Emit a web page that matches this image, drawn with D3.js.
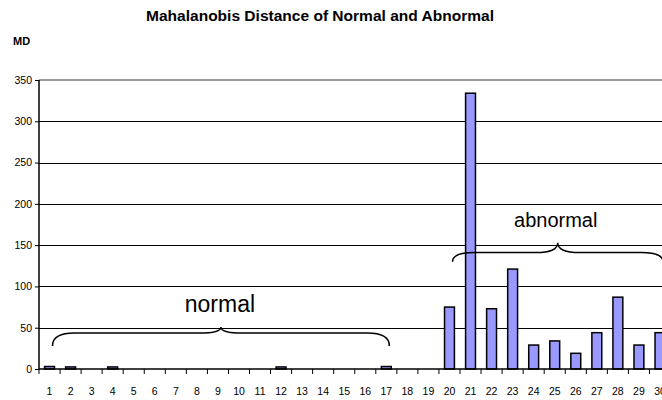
<!DOCTYPE html>
<html>
<head>
<meta charset="utf-8">
<script src="https://cdn.jsdelivr.net/npm/d3@7"></script>
<style>
  body { margin:0; background:#fff; }
  svg { font-family:"Liberation Sans", Arial, sans-serif; display:block; }
</style>
</head>
<body>
<div id="chart"></div>
<script>
/*  Chart data  */
var categories = d3.range(1, 31).map(String);
var mdValues = [3, 2.5, 0, 2.5, 0, 0, 0, 0, 0, 0, 0, 2.5, 0, 0, 0, 0, 3, 0, 0,
                75, 334, 73, 121, 29, 34, 19, 44, 87, 29, 44];
var yTicks = [0, 50, 100, 150, 200, 250, 300, 350];
var groups = [
  {label:"normal",   from:"1",  to:"17", tipAt:"9",  endVal:28,  barVal:43.5, tipVal:51},
  {label:"abnormal", from:"20", to:"30", tipAt:"25", endVal:130, barVal:141,  tipVal:153}
];

var W = 662, H = 400;
var plotLeft = 39, plotTop = 80, plotBottom = 369;

var svg = d3.select("#chart").append("svg")
            .attr("width", W).attr("height", H);

var x = d3.scaleBand().domain(categories).range([plotLeft, plotLeft + 30*21.05]).paddingInner(0.53).paddingOuter(0.265);
var y = d3.scaleLinear().domain([0, 350]).range([plotBottom, plotTop]);

// gridlines
svg.append("g").selectAll("line").data(yTicks.slice(1, -1)).join("line")
   .attr("x1", plotLeft).attr("x2", W)
   .attr("y1", function(d){ return Math.round(y(d)) + 0.5; })
   .attr("y2", function(d){ return Math.round(y(d)) + 0.5; })
   .style("stroke", "#000").style("stroke-width", 1);

// plot area top border
svg.append("line")
   .attr("x1", plotLeft).attr("x2", W)
   .attr("y1", y(350)).attr("y2", y(350))
   .style("stroke", "#999").style("stroke-width", 2);

// bars
svg.append("g").selectAll("rect").data(mdValues.map(function(v, i){ return {c:categories[i], v:v}; }).filter(function(d){ return d.v > 0; }))
   .join("rect")
   .attr("x", function(d){ return x(d.c); })
   .attr("width", x.bandwidth())
   .attr("y", function(d){ return y(d.v); })
   .attr("height", function(d){ return y(0) - y(d.v); })
   .style("fill", "#9999ff").style("stroke", "#000").style("stroke-width", 1.5);

// y axis
var yAxis = svg.append("g").attr("transform", "translate(" + plotLeft + ",0)")
   .call(d3.axisLeft(y).tickValues(yTicks).tickSize(4).tickPadding(3));
yAxis.select(".domain").attr("d", "M0," + y(350) + "V" + y(0)).style("stroke-width", 1.5);
yAxis.selectAll("text").style("font-size", "10.5px").style("fill", "#000");

// x axis
var xAxis = svg.append("g").attr("transform", "translate(0," + plotBottom + ")")
   .call(d3.axisBottom(x).tickSize(0).tickPadding(19));
xAxis.select(".domain").attr("d", "M" + plotLeft + ",0H" + W).style("stroke-width", 1.5);
xAxis.selectAll("text").style("font-size", "10.5px").style("fill", "#000");
var step = x.step();
xAxis.append("g").selectAll("line").data(d3.range(0, 31)).join("line")
   .attr("x1", function(i){ return plotLeft + i*step; })
   .attr("x2", function(i){ return plotLeft + i*step; })
   .attr("y1", 0).attr("y2", 5)
   .style("stroke", "#000");

// braces
function braceMid(c){ return x(c) + x.bandwidth()/2; }
groups.forEach(function(g){
  var x0 = braceMid(g.from) + 3, x1 = braceMid(g.to) + 3, xm = braceMid(g.tipAt) + 3;
  var yE = y(g.endVal), yB = y(g.barVal), yT = y(g.tipVal);
  var r = 22;
  var p = d3.path();
  p.moveTo(x0, yE);
  p.quadraticCurveTo(x0, yB, x0 + r, yB);
  p.lineTo(xm - r, yB);
  p.quadraticCurveTo(xm, yB, xm, yT);
  p.quadraticCurveTo(xm, yB, xm + r, yB);
  p.lineTo(x1 - r, yB);
  p.quadraticCurveTo(x1, yB, x1, yE);
  svg.append("path").attr("d", p.toString())
     .style("fill", "none").style("stroke", "#000").style("stroke-width", 1.5);
});

svg.append("text").attr("x", braceMid("9") + 2).attr("y", y(69))
   .attr("text-anchor", "middle").style("font-size", "23px").text(groups[0].label);
svg.append("text").attr("x", braceMid("25") + 1).attr("y", y(172))
   .attr("text-anchor", "middle").style("font-size", "20px").text(groups[1].label);

// titles
svg.append("text").attr("x", 146).attr("y", 21)
   .attr("textLength", 348).attr("lengthAdjust", "spacingAndGlyphs")
   .style("font-size", "14.5px").style("font-weight", "bold")
   .text("Mahalanobis Distance of Normal and Abnormal");
svg.append("text").attr("x", 13).attr("y", 45)
   .style("font-size", "11px").style("font-weight", "bold").text("MD");
</script>
</body>
</html>
